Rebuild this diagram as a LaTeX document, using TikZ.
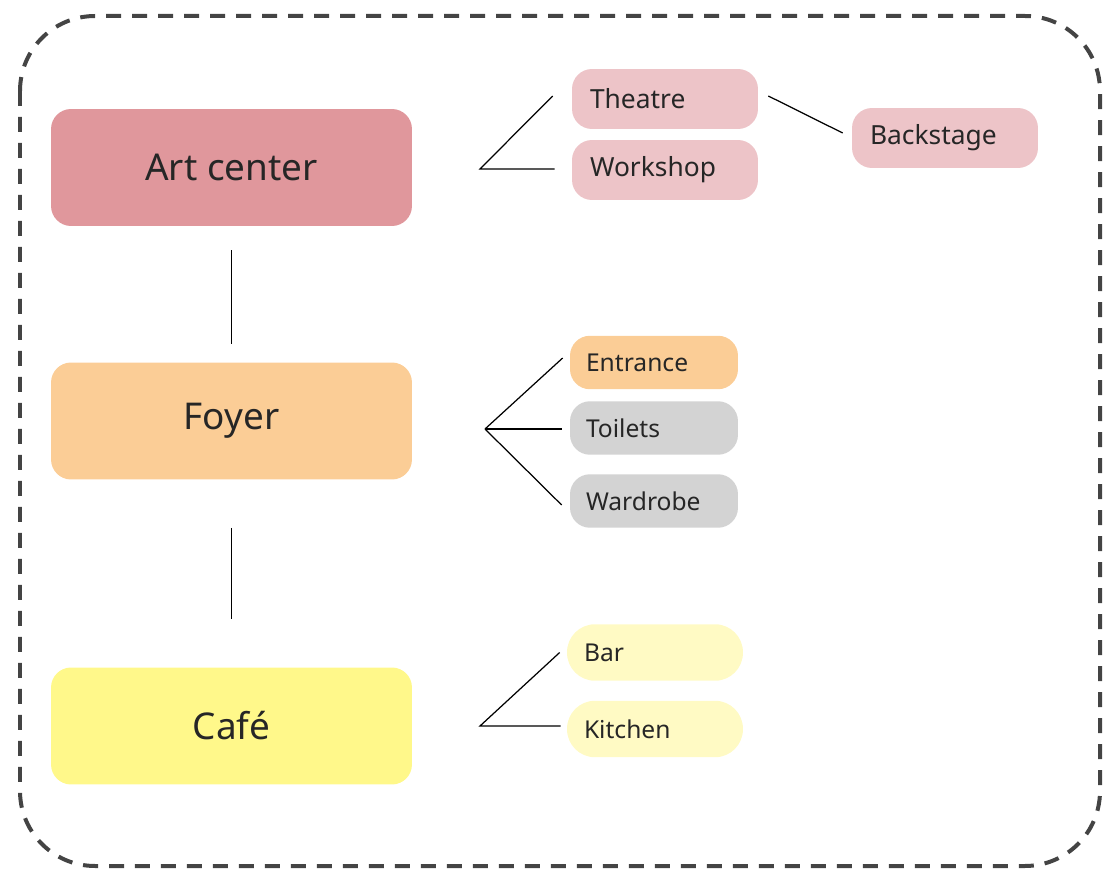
\documentclass[tikz,border=0pt]{standalone}
\usepackage{fontspec}
\setmainfont{Noto Sans}
\definecolor{artred}{HTML}{E0979C}
\definecolor{artpink}{HTML}{EDC4C8}
\definecolor{foyerorange}{HTML}{FBCD96}
\definecolor{roomgray}{HTML}{D3D3D3}
\definecolor{cafeyellow}{HTML}{FFF88A}
\definecolor{cafepale}{HTML}{FFFAC4}
\definecolor{framegray}{HTML}{444444}
\definecolor{inkdark}{HTML}{262626}
\begin{document}
\begin{tikzpicture}[
    x=0.02cm, y=-0.02cm,
    every node/.style={text=inkdark},
    hall/.style={rectangle, rounded corners=0.4cm, minimum width=7.22cm, minimum height=2.34cm, inner sep=0pt, font=\fontsize{21}{24}\selectfont},
    room/.style={rectangle, rounded corners=0.4cm, minimum height=1.2cm, text width=3cm, inner xsep=0.36cm, inner ysep=0pt, align=left, font=\fontsize{15}{18}\selectfont},
    nook/.style={rectangle, rounded corners=0.4cm, minimum height=1.07cm, text width=2.72cm, inner xsep=0.32cm, inner ysep=0pt, align=left, font=\fontsize{14}{17}\selectfont},
    pill/.style={rectangle, rounded corners=0.56cm, minimum height=1.13cm, text width=2.84cm, inner xsep=0.34cm, inner ysep=0pt, align=left, font=\fontsize{14}{17}\selectfont},
    link/.style={black, line width=0.7pt}
]
\useasboundingbox (0,0) rectangle (1103,871);
\draw[framegray, line width=0.08cm, dash pattern=on 0.3cm off 0.22cm, rounded corners=1.5cm]
    (20,16) rectangle (1100,866);

\node[hall, fill=artred]      (art)   at (231.5,167.5) {Art center};
\node[hall, fill=foyerorange] (foyer) at (231.5,421)   {Foyer};
\node[hall, fill=cafeyellow]  (cafe)  at (231.5,726)   {Café};

\node[room, fill=artpink] (theatre)   at (665,99)  {Theatre};
\node[room, fill=artpink] (workshop)  at (665,170) {Workshop};
\node[room, fill=artpink] (backstage) at (945,138) {Backstage};

\node[nook, fill=foyerorange] (entrance) at (654,362.5) {Entrance};
\node[nook, fill=roomgray]    (toilets)  at (654,428)   {Toilets};
\node[nook, fill=roomgray]    (wardrobe) at (654,501)   {Wardrobe};

\node[pill, fill=cafepale] (bar)     at (655,652.5) {Bar};
\node[pill, fill=cafepale] (kitchen) at (655,729)   {Kitchen};

\coordinate (artj)   at (480,169);
\coordinate (foyerj) at (485,429);
\coordinate (cafej)  at (480,726);

\draw[link, shorten <=0.48cm, shorten >=0.36cm] (art) -- (foyer);
\draw[link, shorten <=0.96cm, shorten >=0.96cm] (foyer) -- (cafe);

\draw[link] ([xshift=-0.38cm,yshift=0.06cm]theatre.west) -- (artj) -- ([xshift=-0.34cm]workshop.west |- artj);
\draw[link] ([xshift=0.2cm,yshift=0.06cm]theatre.east) -- ([xshift=-0.18cm,yshift=0.1cm]backstage.west);

\draw[link] ([xshift=-0.14cm,yshift=0.09cm]entrance.west) -- (foyerj);
\draw[link] (foyerj) -- ([xshift=-0.16cm]toilets.west |- foyerj);
\draw[link] (foyerj) -- ([xshift=-0.16cm,yshift=-0.08cm]wardrobe.west);

\draw[link] ([xshift=-0.14cm]bar.west) -- (cafej) -- ([xshift=-0.12cm]kitchen.west |- cafej);
\end{tikzpicture}
\end{document}
